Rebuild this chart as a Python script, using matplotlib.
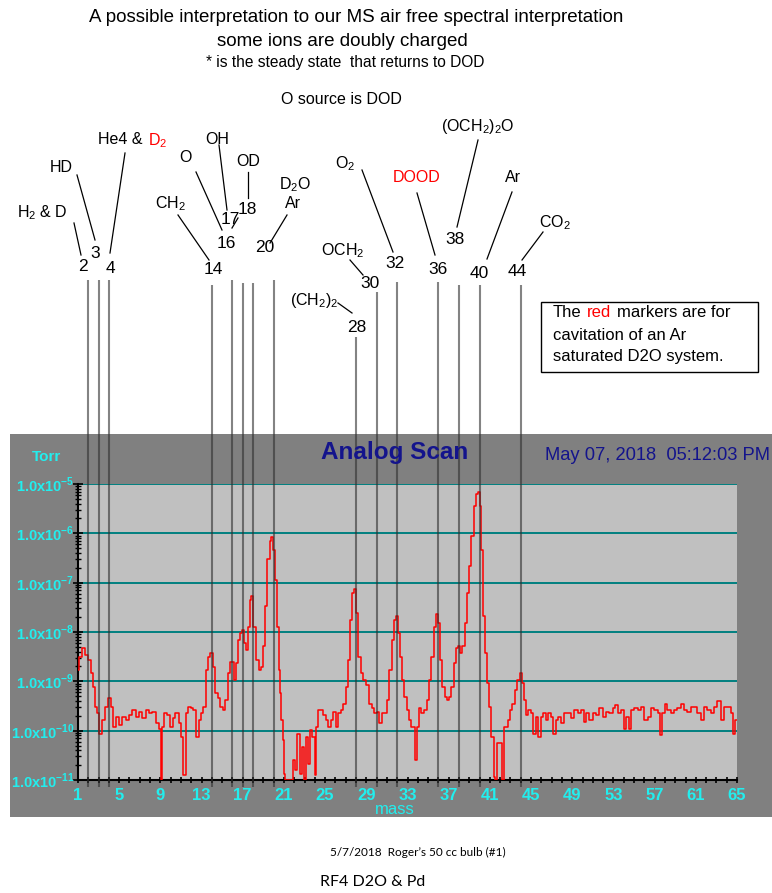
import matplotlib
matplotlib.use("Agg")
import matplotlib.pyplot as plt
import matplotlib.transforms as mtransforms
from matplotlib.patches import Rectangle
from matplotlib.lines import Line2D
from matplotlib.ticker import NullFormatter, FixedLocator
import numpy as np

# trace: mass (amu) and log10 of pressure (Torr)
mass = [1.00, 1.26, 1.58, 1.84, 2.17, 2.40, 2.55, 2.70, 2.94, 3.20, 3.52, 3.78, 4.04, 4.33, 4.56,
        4.82, 5.14, 5.47, 5.79, 6.11, 6.44, 6.76, 7.08, 7.41, 7.73, 8.06, 8.38, 8.70, 8.96, 9.09,
        9.28, 9.50, 9.83, 10.06, 10.30, 10.60, 10.97, 11.13, 11.36, 11.55, 11.78, 12.10, 12.33, 12.59, 12.84,
        13.07, 13.30, 13.56, 13.72, 13.94, 14.20, 14.46, 14.69, 14.92, 15.17, 15.43, 15.66, 15.89, 16.08, 16.31,
        16.47, 16.70, 16.79, 17.00, 17.18, 17.37, 17.57, 17.76, 17.92, 18.15, 18.41, 18.67, 18.86, 19.05, 19.28,
        19.51, 19.70, 19.86, 20.09, 20.25, 20.41, 20.57, 20.67, 20.80, 20.93, 21.06, 21.22, 21.71, 21.97, 22.20,
        22.42, 22.61, 22.84, 23.00, 23.23, 23.42, 23.65, 23.88, 24.07, 24.23, 24.46, 24.69, 24.94, 25.20, 25.43,
        25.66, 25.91, 26.17, 26.40, 26.63, 26.89, 27.15, 27.37, 27.53, 27.76, 27.92, 28.12, 28.34, 28.57, 28.83,
        29.15, 29.41, 29.64, 29.86, 30.12, 30.38, 30.60, 30.83, 31.10, 31.35, 31.58, 31.80, 31.97, 32.23, 32.39,
        32.61, 32.78, 33.04, 33.27, 33.50, 33.69, 33.82, 34.00, 34.24, 34.47, 34.73, 34.98, 35.21, 35.44, 35.63,
        35.86, 36.08, 36.28, 36.50, 36.73, 36.93, 37.15, 37.38, 37.57, 37.80, 38.03, 38.22, 38.45, 38.67, 38.87,
        39.10, 39.32, 39.51, 39.74, 39.90, 40.10, 40.23, 40.39, 40.62, 40.81, 41.04, 41.26, 41.46, 41.62, 41.84,
        42.04, 42.23, 42.43, 42.65, 42.82, 43.04, 43.30, 43.53, 43.79, 44.01, 44.18, 44.37, 44.60, 44.82, 45.08,
        45.31, 45.57, 45.79, 46.05, 46.31, 46.54, 46.76, 47.02, 47.28, 47.51, 47.74, 48.00, 48.32, 48.70, 49.03,
        49.35, 49.67, 50.00, 50.26, 50.48, 50.81, 51.13, 51.45, 51.78, 52.10, 52.43, 52.75, 53.07, 53.30, 53.56,
        53.88, 54.14, 54.37, 54.59, 54.85, 55.18, 55.50, 55.82, 56.15, 56.47, 56.79, 57.12, 57.44, 57.64, 57.83,
        58.09, 58.41, 58.74, 59.06, 59.38, 59.71, 60.03, 60.35, 60.68, 61.00, 61.32, 61.65, 61.97, 62.30, 62.62,
        62.94, 63.27, 63.59, 63.91, 64.24, 64.56, 64.72, 64.89, 65.00]
log_torr = [-8.77, -8.50, -8.33, -8.46, -8.57, -8.84, -9.11, -9.52, -9.65, -10.06, -9.79, -9.52, -9.33, -9.52, -9.92,
            -9.72, -9.89, -9.72, -9.79, -9.68, -9.58, -9.72, -9.62, -9.75, -9.58, -9.65, -9.62, -9.85, -9.96, -11.0,
            -9.92, -9.65, -9.68, -9.92, -9.75, -9.65, -9.85, -10.13, -10.90, -9.65, -9.52, -9.55, -9.58, -10.13, -9.79,
            -9.65, -9.52, -8.77, -8.50, -8.42, -8.70, -9.24, -9.34, -9.52, -9.58, -9.38, -8.84, -8.60, -8.60, -8.97,
            -8.63, -8.16, -8.02, -7.96, -8.23, -8.36, -7.89, -7.35, -7.28, -7.89, -8.57, -8.78, -8.70, -8.29, -7.48,
            -6.53, -6.16, -6.07, -6.33, -6.94, -7.89, -8.77, -9.24, -9.79, -10.19, -10.87, -11.0, -11.0, -10.60, -10.80,
            -10.06, -10.87, -10.33, -11.0, -10.13, -10.67, -9.99, -10.13, -10.90, -9.92, -9.58, -9.58, -9.68, -9.79, -9.92,
            -9.79, -9.62, -9.92, -9.65, -9.58, -9.45, -9.11, -8.57, -7.75, -7.21, -7.13, -7.62, -8.50, -8.84, -8.97,
            -9.07, -9.45, -9.55, -9.65, -9.62, -9.85, -9.65, -9.65, -9.38, -8.77, -8.16, -7.75, -7.67, -8.02, -8.50,
            -8.97, -9.31, -9.58, -9.79, -9.92, -9.92, -10.60, -9.92, -9.55, -9.65, -9.58, -9.38, -8.97, -8.50, -7.89,
            -7.63, -7.82, -8.57, -9.11, -9.31, -9.38, -9.31, -9.11, -8.63, -8.33, -8.29, -8.43, -8.29, -7.82, -7.21,
            -6.67, -6.06, -5.45, -5.21, -5.16, -5.45, -6.33, -7.68, -8.43, -9.04, -9.52, -10.13, -10.94, -11.0, -10.26,
            -10.26, -11.0, -9.92, -9.92, -9.79, -9.58, -9.45, -9.18, -8.97, -8.84, -9.04, -9.38, -9.68, -9.58, -9.65,
            -10.06, -9.72, -10.13, -9.72, -9.65, -9.79, -9.65, -9.72, -10.06, -9.79, -9.72, -9.85, -9.65, -9.65, -9.75,
            -9.58, -9.65, -9.58, -9.82, -9.65, -9.79, -9.65, -9.68, -9.55, -9.72, -9.62, -9.65, -9.55, -9.48, -9.65,
            -9.58, -9.96, -9.72, -9.96, -9.58, -9.55, -9.58, -9.52, -9.79, -9.72, -9.55, -9.58, -9.65, -10.09, -9.65,
            -9.46, -9.58, -9.65, -9.58, -9.55, -9.45, -9.58, -9.62, -9.52, -9.52, -9.65, -9.79, -9.52, -9.58, -9.65,
            -9.52, -9.39, -9.79, -9.52, -9.52, -9.65, -10.06, -9.79, -9.79]

# masses that got an interpretation marker
marker_masses = [2, 3, 4, 14, 16, 17, 18, 20, 28, 30, 32, 36, 38, 40, 44]
x_ticks = list(range(1, 66, 4))
decades = [-11, -10, -9, -8, -7, -6, -5]

W, H = 772, 893
CYAN = '#22eeee'
NAVY = '#14148c'

plt.rcParams['font.family'] = ['Liberation Sans', 'DejaVu Sans']
plt.rcParams['mathtext.fontset'] = 'custom'
plt.rcParams['mathtext.rm'] = 'Liberation Sans'
plt.rcParams['mathtext.bf'] = 'Liberation Sans:bold'


def fx(x):
    return x / W


def fy(y):
    return 1 - y / H


fig = plt.figure(figsize=(W / 100, H / 100), dpi=100)
fig.patch.set_facecolor('white')

# dark instrument panel behind the plot
fig.patches.append(Rectangle((fx(10), fy(817)), fx(772) - fx(10), fy(434) - fy(817),
                             transform=fig.transFigure, facecolor='#808080', edgecolor='none', zorder=-5))

ax = fig.add_axes([fx(78), fy(780), fx(737) - fx(78), fy(484) - fy(780)])
ax.set_zorder(2)
ax.set_facecolor('#c0c0c0')
ax.set_yscale('log')
ax.set_xlim(1, 65)
ax.set_ylim(1e-11, 1e-5)

for d in decades[1:]:
    ax.axhline(10.0 ** d, color='#008080', lw=1.4, zorder=1)

ax.plot(mass, 10.0 ** np.array(log_torr), color='red', lw=1.1, drawstyle='steps-mid', zorder=3)

# marker lines run from the label area down through the plot
marker_tops = [280, 280, 280, 285, 280, 283, 283, 280, 337, 292, 282, 282, 285, 285, 285]
trans = mtransforms.blended_transform_factory(ax.transData, fig.transFigure)
ax.vlines(marker_masses, fy(787), [fy(t) for t in marker_tops], transform=trans,
          colors='#303030', lw=1.5, alpha=0.6, clip_on=False, zorder=4)

# axes styling
for s in ['top', 'right']:
    ax.spines[s].set_visible(False)
for s in ['left', 'bottom']:
    ax.spines[s].set_color('black')
    ax.spines[s].set_linewidth(1.5)

ax.set_yticks([10.0 ** d for d in decades])
ax.set_yticklabels([r'1.0x10$^{\mathbf{%d}}$' % d for d in decades])
ax.yaxis.set_minor_formatter(NullFormatter())
ax.set_xticks(x_ticks)
ax.set_xticklabels([str(t) for t in x_ticks])
ax.xaxis.set_minor_locator(FixedLocator(range(1, 66)))
ax.tick_params(axis='both', which='both', direction='inout', color='black', labelcolor=CYAN)
ax.tick_params(axis='y', which='major', length=7, width=1.2, pad=-1, labelsize=10.5)
ax.tick_params(axis='y', which='minor', length=4, width=1)
ax.tick_params(axis='x', which='both', length=5, width=1.2, pad=3, labelsize=12)
for lab in ax.get_xticklabels() + ax.get_yticklabels():
    lab.set_fontweight('bold')

fig.text(fx(395), fy(809), 'mass', color=CYAN, fontsize=12, ha='center', va='center')
fig.text(fx(47), fy(457), 'Torr', color=CYAN, fontsize=11, fontweight='bold', ha='center', va='center')
fig.text(fx(395), fy(452), 'Analog Scan', color=NAVY, fontsize=17.5, fontweight='bold', ha='center', va='center')
fig.text(fx(545), fy(456), 'May 07, 2018  05:12:03 PM', color=NAVY, fontsize=13.2, ha='left', va='center')

# titles
fig.text(fx(356), fy(18), 'A possible interpretation to our MS air free spectral interpretation',
         fontsize=13.5, ha='center', va='center')
fig.text(fx(342), fy(41), 'some ions are doubly charged', fontsize=13.5, ha='center', va='center')
fig.text(fx(345), fy(62), '* is the steady state  that returns to DOD', fontsize=11.2, ha='center', va='center')
fig.text(fx(341), fy(100), 'O source is DOD', fontsize=11.5, ha='center', va='center')

# mass numbers above the marker lines
numbers = [('2', 83, 267), ('3', 95, 253), ('4', 110, 268), ('14', 213, 270), ('16', 226, 243),
           ('17', 230, 220), ('18', 247, 209), ('20', 265, 248), ('28', 357, 327), ('30', 370, 283),
           ('32', 395, 263), ('36', 438, 270), ('38', 455, 240), ('40', 479, 273), ('44', 517, 272)]
for s, x, y in numbers:
    fig.text(fx(x), fy(y), s, fontsize=12.5, ha='center', va='center')

# species names
species = [('H$_2$ & D', 42, 213, 'black'), ('HD', 61, 167, 'black'), ('He4 &', 120, 139, 'black'),
           ('D$_2$', 158, 141, 'red'), ('CH$_2$', 170, 204, 'black'), ('O', 185, 158, 'black'),
           ('OH', 217, 139, 'black'), ('OD', 248, 162, 'black'), ('D$_2$O', 295, 185, 'black'),
           ('Ar', 293, 204, 'black'), ('O$_2$', 345, 164, 'black'), ('OCH$_2$', 343, 251, 'black'),
           ('(CH$_2$)$_2$', 314, 300, 'black'), ('DOOD', 417, 178, 'red'), ('(OCH$_2$)$_2$O', 478, 127, 'black'),
           ('Ar', 513, 178, 'black'), ('CO$_2$', 555, 223, 'black')]
for s, x, y, c in species:
    fig.text(fx(x), fy(y), s, fontsize=11.5, color=c, ha='center', va='center')

callouts = [(74, 223, 81, 255), (77, 175, 95, 240), (125, 153, 110, 253), (178, 215, 209, 260),
            (196, 172, 222, 230), (219, 145, 227, 210), (232, 228, 238, 218), (248, 172, 248, 198),
            (287, 215, 270, 243), (362, 170, 393, 252), (350, 260, 363, 275), (338, 303, 352, 313),
            (417, 193, 435, 255), (478, 140, 457, 227), (512, 192, 487, 259), (543, 232, 522, 260)]
for x0, y0, x1, y1 in callouts:
    fig.add_artist(Line2D([fx(x0), fx(x1)], [fy(y0), fy(y1)], transform=fig.transFigure,
                          color='black', lw=0.9))

# note box
fig.patches.append(Rectangle((fx(541), fy(372)), fx(758) - fx(541), fy(302) - fy(372),
                             transform=fig.transFigure, facecolor='white', edgecolor='black', lw=1))
fig.text(fx(553), fy(313), 'The', fontsize=12, ha='left', va='center')
fig.text(fx(587), fy(313), 'red', fontsize=12, color='red', ha='left', va='center')
fig.text(fx(617), fy(313), 'markers are for', fontsize=12, ha='left', va='center')
fig.text(fx(553), fy(335), 'cavitation of an Ar', fontsize=12, ha='left', va='center')
fig.text(fx(553), fy(357), 'saturated D2O system.', fontsize=12, ha='left', va='center')

# caption under the panel
fig.text(fx(330), fy(852), '5/7/2018  Roger\u2019s 50 cc bulb (#1)', fontsize=8.5, family='Lato',
         ha='left', va='center')
fig.text(fx(320), fy(882), 'RF4 D2O & Pd', fontsize=11.5, family='Lato', ha='left', va='center')

fig.savefig('out.png', dpi=100)
